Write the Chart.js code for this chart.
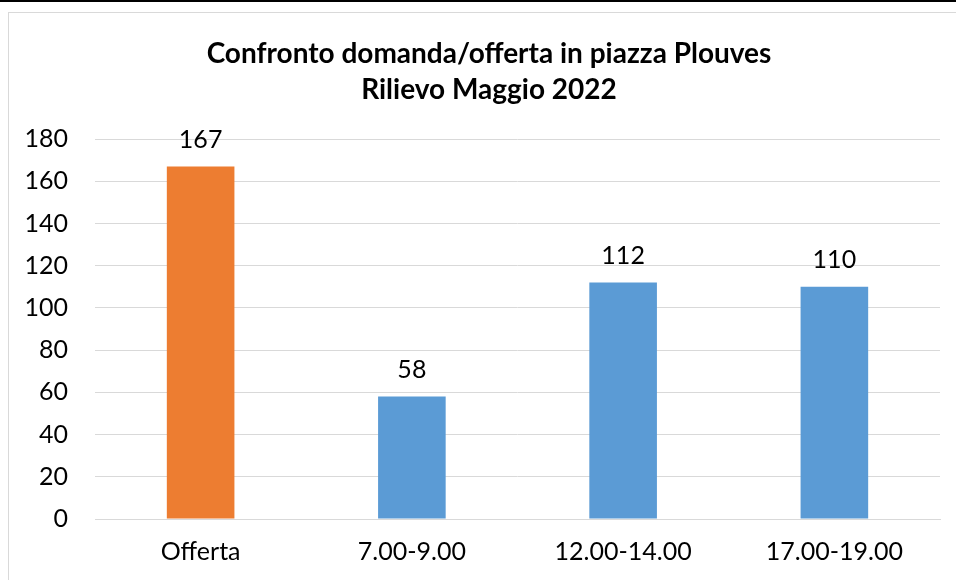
<!DOCTYPE html>
<html>
<head>
<meta charset="utf-8">
<script src="https://cdn.jsdelivr.net/npm/chart.js@4/dist/chart.umd.min.js"></script>
<style>
  html, body { margin: 0; padding: 0; background: #fff; }
  #wrap { position: relative; width: 956px; height: 580px; overflow: hidden; border-top: 2px solid #000; box-sizing: border-box; }
  #frame { position: absolute; left: 8px; top: 10px; width: 1000px; height: 600px; border: 1px solid #d9d9d9; }
  #grafico { position: absolute; left: 0; top: -2px; }
</style>
</head>
<body>
<div id="wrap">
  <div id="frame"></div>
  <canvas id="grafico" width="956" height="580"></canvas>
</div>
<script>
// Dati del grafico
const categorie = ['Offerta', '7.00-9.00', '12.00-14.00', '17.00-19.00'];
const valori = [167, 58, 112, 110];
const colori = ['#ED7D31', '#5B9BD5', '#5B9BD5', '#5B9BD5'];
const titolo = ['Confronto domanda/offerta in piazza Plouves', 'Rilievo Maggio 2022'];

(function(){
  'use strict';
  const FONT = 'Lato, "Open Sans", sans-serif';

  // Etichette dei valori sopra le barre
  const etichette = {
    id: 'etichette',
    afterDatasetsDraw(chart) {
      const ctx = chart.ctx;
      const meta = chart.getDatasetMeta(0);
      ctx.save();
      ctx.font = '25px ' + FONT;
      ctx.fillStyle = '#000';
      ctx.textAlign = 'center';
      ctx.textBaseline = 'middle';
      meta.data.forEach((bar, i) => {
        ctx.fillText(String(valori[i]), bar.x, bar.y - 27);
      });
      ctx.restore();
    }
  };

  new Chart(document.getElementById('grafico'), {
    type: 'bar',
    data: {
      labels: categorie,
      datasets: [{
        data: valori,
        backgroundColor: colori,
        borderWidth: 0,
        categoryPercentage: 1,
        barPercentage: 0.32
      }]
    },
    options: {
      responsive: false,
      animation: false,
      // padding sinistro 22 / destro 0 per centrare il titolo come nell'originale
      layout: { padding: { top: 0, right: 0, bottom: 0, left: 22 } },
      plugins: {
        legend: { display: false },
        tooltip: { enabled: false },
        title: {
          display: true,
          text: titolo,
          color: '#000',
          font: { family: FONT, size: 28, weight: 'bold', lineHeight: 1.286 },
          padding: { top: 36, bottom: 31 }
        }
      },
      scales: {
        x: {
          afterFit: (s) => { s.height = 61; },
          grid: { display: false, drawTicks: false },
          border: { display: true, color: '#d9d9d9', width: 1 },
          ticks: { color: '#000', font: { family: FONT, size: 25 }, padding: 18 }
        },
        y: {
          min: 0,
          max: 180,
          afterFit: (s) => { s.width = 73; },
          grid: { color: '#d9d9d9', drawTicks: false },
          border: { display: false },
          ticks: { stepSize: 20, color: '#000', font: { family: FONT, size: 25 }, padding: 27 }
        },
        // asse vuoto a destra: solo margine
        margine: {
          position: 'right',
          afterFit: (s) => { s.width = 16; },
          grid: { display: false, drawTicks: false },
          border: { display: false },
          ticks: { display: false }
        }
      }
    },
    plugins: [etichette]
  });
})();
</script>
</body>
</html>
